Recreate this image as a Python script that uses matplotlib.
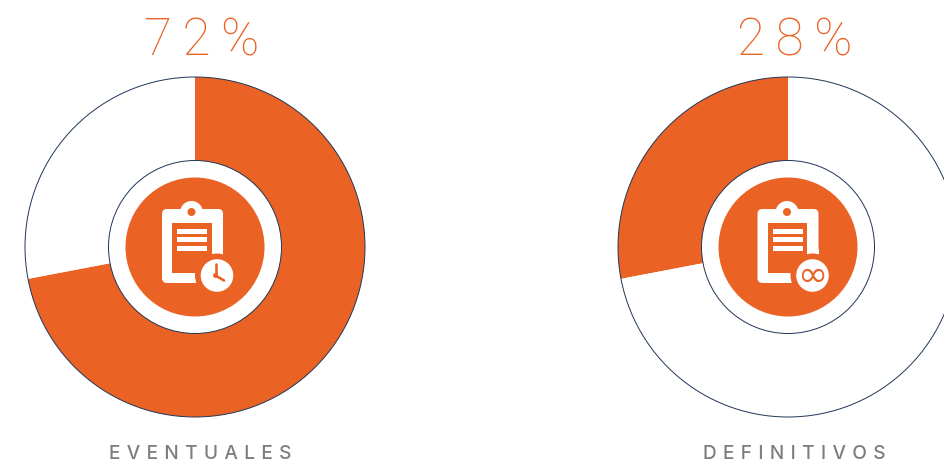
import matplotlib
matplotlib.use("Agg")
import matplotlib.pyplot as plt
from matplotlib.patches import Circle, FancyBboxPatch, Rectangle

# data
labels = ["EVENTUALES", "DEFINITIVOS"]
percent_labels = ["72%", "28%"]
left_values = [72, 28]
right_values = [28, 72]

ORANGE = "#EB6225"
NAVY = "#1F3556"
GRAY = "#7F7C7C"

H = 462


def spaced(s, sp):
    return sp.join(s)


fig = plt.figure(figsize=(9.44, 4.62), dpi=100)
ax = fig.add_axes([0, 0, 1, 1])


def clipboard(cx, cy, symbol):
    """icon, offsets in px from the donut centre, y goes up"""
    ax.add_patch(Circle((cx, cy), 69.5, fc=ORANGE, ec="none", zorder=4))
    # the second icon sits a bit more to the right
    if symbol == "inf":
        cx = cx + 2.5
    # board
    ax.add_patch(FancyBboxPatch((cx - 30, cy - 33), 55, 68, boxstyle="round,pad=3,rounding_size=5",
                                fc="white", ec="none", zorder=5))
    ax.add_patch(Circle((cx - 3.5, cy + 34.5), 11.5, fc="white", ec="none", zorder=5))
    ax.add_patch(Circle((cx - 3.5, cy + 35), 4, fc=ORANGE, ec="none", zorder=6))
    # paper
    ax.add_patch(Rectangle((cx - 23, cy - 26), 39.5, 50, fc=ORANGE, ec="none", zorder=6))
    for top in [18, 10, 1]:
        ax.add_patch(Rectangle((cx - 18, cy + top - 4.7), 30, 4.7, fc="white", ec="none", zorder=7))
    # badge
    bx, by = cx + 22, cy - 28.5
    ax.add_patch(Circle((bx, by), 22, fc=ORANGE, ec="none", zorder=8))
    ax.add_patch(Rectangle((cx + 16.5, cy - 6.5), 11.5, 5, fc="white", ec="none", zorder=7))
    ax.add_patch(Circle((bx, by), 16.3, fc="white", ec="none", zorder=9))
    if symbol == "clock":
        ax.plot([bx - 1.5, bx - 1.5], [by, by + 11.5], color=ORANGE, lw=1.9, zorder=10, solid_capstyle="round")
        ax.plot([bx - 1.5, bx + 7], [by, by - 5], color=ORANGE, lw=1.9, zorder=10, solid_capstyle="round")
        ax.add_patch(Circle((bx - 1.5, by), 2.4, fc=ORANGE, ec="none", zorder=10))
    else:
        ax.text(bx, by - 0.5, "\u221e", color=ORANGE, fontsize=26, family="DejaVu Sans",
                ha="center", va="center", zorder=10)


def donut(cx, cy, values, counter, title, label, title_x, label_x, symbol):
    ax.pie(values, center=(cx, cy), radius=170, startangle=90, counterclock=counter,
           colors=[ORANGE, "white"], wedgeprops=dict(linewidth=0), frame=True)
    ax.add_patch(Circle((cx, cy), 170, fc="none", ec=NAVY, lw=0.7, zorder=3))
    ax.add_patch(Circle((cx, cy), 86.5, fc="white", ec=NAVY, lw=0.7, zorder=3))
    clipboard(cx, cy, symbol)
    ax.text(title_x, H - 55, spaced(title, "\u2009"), color=ORANGE, fontsize=37, family="Roboto",
            fontweight="light", ha="center", va="baseline")
    ax.text(label_x, H - 459, spaced(label, "\u2004"), color=GRAY, fontsize=13.7, family="Inter",
            fontweight="medium", ha="center", va="baseline")


donut(195, H - 247, left_values, False, percent_labels[0], labels[0], 202, 200.5, "clock")
donut(788, H - 247, right_values, True, percent_labels[1], labels[1], 795, 794.5, "inf")

ax.set_xlim(0, 944)
ax.set_ylim(0, H)
ax.set_aspect("equal")
ax.axis("off")

fig.savefig("out.png", dpi=100)
